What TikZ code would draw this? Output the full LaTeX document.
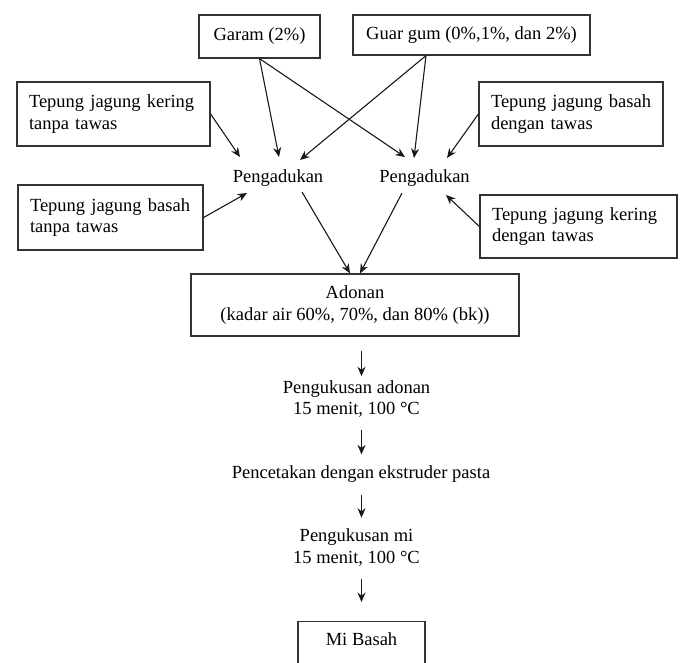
\documentclass[tikz,border=0pt]{standalone}
\usepackage{fontspec}
\setmainfont{Liberation Serif}
\usetikzlibrary{arrows.meta}
\begin{document}
\begin{tikzpicture}[x=1pt,y=-1pt,
  every node/.style={font=\fontsize{18.5}{21.5}\selectfont, text=black},
  box/.style={draw=black!80, line width=1.2pt, rectangle, inner sep=0pt},
  tbox/.style={box, align=left, inner xsep=12pt},
  lbl/.style={inner sep=0pt, align=center},
  arr/.style={draw=black!90, line width=1.1pt, -{Stealth[length=9.5pt,width=8pt]}},
]
\useasboundingbox (0,0) rectangle (680,662);
\clip (0,0) rectangle (680,662);
\fill[white] (0,0) rectangle (680,662);

% top boxes
\node[box, minimum width=121pt, minimum height=43pt] (garam) at (259.5,36.5) {Garam (2\%)};
\node[box, minimum width=237pt, minimum height=40pt] (guar) at (471.5,35) {Guar gum (0\%,1\%, dan 2\%)};

% side boxes
\node[tbox, minimum width=193pt, minimum height=64pt, text width=169pt] (tkt) at (113.5,114) {\mbox{Tepung jagung kering}\\tanpa tawas};
\node[tbox, minimum width=185pt, minimum height=65pt, text width=161pt] (tbt) at (110.5,217.5) {\mbox{Tepung jagung basah}\\tanpa tawas};
\node[tbox, minimum width=184pt, minimum height=64pt, text width=160pt] (tbd) at (571,114) {\mbox{Tepung jagung basah}\\dengan tawas};
\node[tbox, minimum width=197pt, minimum height=63pt, text width=173pt] (tkd) at (578.5,226.5) {\mbox{Tepung jagung kering}\\dengan tawas};

% mixing
\node[lbl] (p1) at (278,178) {Pengadukan};
\node[lbl] (p2) at (424.5,178) {Pengadukan};

% dough
\node[box, align=center, minimum width=328pt, minimum height=62pt] (adonan) at (355,305) {Adonan\\(kadar air 60\%, 70\%, dan 80\% (bk))};

% steps
\node[lbl] (s1) at (356.5,399) {Pengukusan adonan\\15 menit, 100 °C};
\node[lbl] (s2) at (361,474) {Pencetakan dengan ekstruder pasta};
\node[lbl] (s3) at (356.5,547.5) {Pengukusan mi\\15 menit, 100 °C};
\node[box, anchor=north, minimum width=127pt, inner ysep=4pt, text height=20pt, text depth=50pt] (mi) at (361.5,621) {Mi Basah};

% arrows into mixing
\draw[arr] (tkt.east) -- ([shift={(-38,-21)}]p1.center);
\draw[arr] (garam.south) -- ([shift={(1,-21)}]p1.center);
\draw[arr] (garam.south) -- ([shift={(-19.5,-21)}]p2.center);
\draw[arr] ([xshift=-45.5pt]guar.south) -- ([shift={(22,-18)}]p1.center);
\draw[arr] ([xshift=-45.5pt]guar.south) -- ([shift={(-10.5,-20)}]p2.center);
\draw[arr] (tbt.east) -- ([shift={(-31,15)}]p1.center);
\draw[arr] (tbd.west) -- ([shift={(22.5,-20)}]p2.center);
\draw[arr] (tkd.west) -- ([shift={(21.5,17)}]p2.center);
\draw[arr] ([shift={(24,14)}]p1.center) -- ([xshift=-5pt]adonan.north);
\draw[arr] ([shift={(-22.5,15)}]p2.center) -- ([xshift=5pt]adonan.north);

% process arrows
\draw[arr, shorten <=14pt, shorten >=4pt] (adonan.south -| mi.north) -- (s1.north -| mi.north);
\draw[arr, shorten <=12pt, shorten >=11pt] (s1.south -| mi.north) -- (s2.north -| mi.north);
\draw[arr, shorten <=12pt, shorten >=11pt] (s2.south -| mi.north) -- (s3.north -| mi.north);
\draw[arr, shorten <=13pt, shorten >=19pt] (s3.south -| mi.north) -- (mi.north);
\end{tikzpicture}
\end{document}
